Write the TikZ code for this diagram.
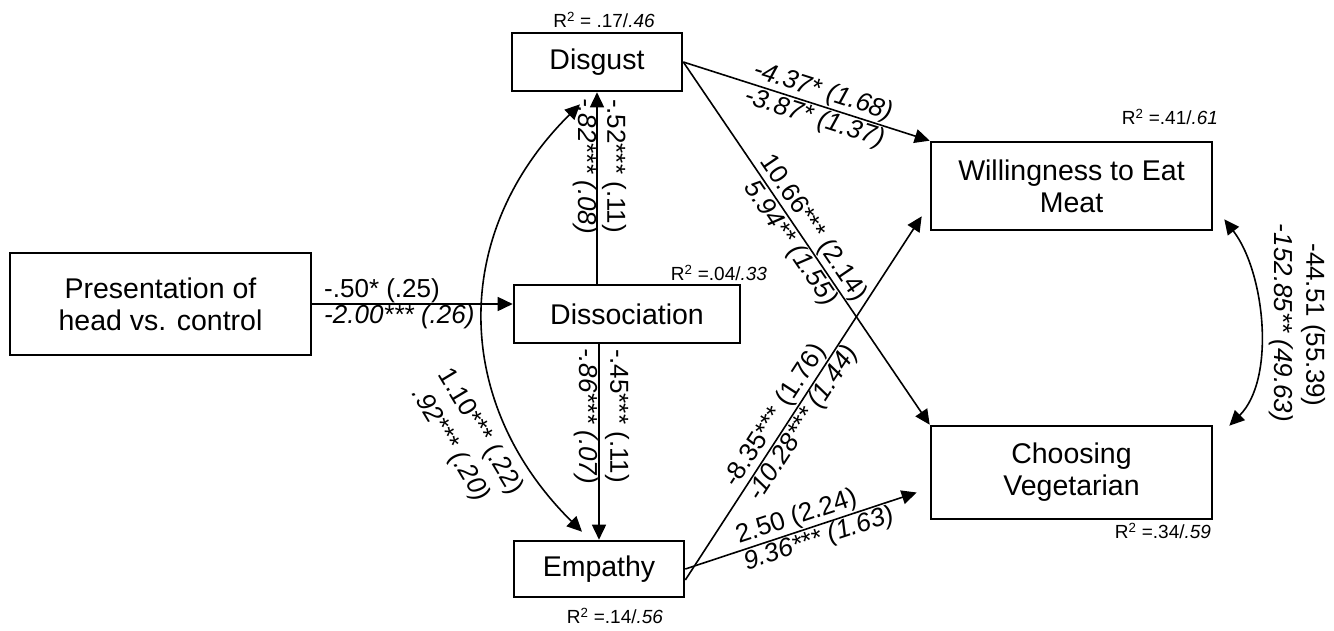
\documentclass[tikz,border=0pt]{standalone}
\usepackage{fontspec}
\setmainfont{Liberation Sans}
\usetikzlibrary{arrows.meta,calc}
\begin{document}
\begin{tikzpicture}[x=1pt,y=-1pt,
  box/.style={draw, line width=2.6pt, align=center, font=\fontsize{28.5}{32}\selectfont, inner sep=0pt},
  conn/.style={line width=1.6pt, -{Triangle[length=15pt,width=14pt]}},
  dconn/.style={line width=1.6pt, {Triangle[length=15pt,width=14pt]}-{Triangle[length=15pt,width=14pt]}},
  lab/.style={font=\fontsize{26}{28}\selectfont, inner sep=1pt},
  labi/.style={font=\fontsize{26}{28}\selectfont\itshape, inner sep=1pt},
  rsq/.style={font=\fontsize{19}{21}\selectfont, inner sep=0pt}]
\useasboundingbox (0,0) rectangle (1334,630);

% boxes
\node[box, minimum width=301pt, minimum height=102pt] (pres) at (160.5,304) {Presentation of\\head vs. control};
\node[box, minimum width=170pt, minimum height=58pt] (disg) at (597,62) {Disgust};
\node[box, minimum width=226pt, minimum height=58pt] (diss) at (627,314) {Dissociation};
\node[box, minimum width=170pt, minimum height=56pt] (emp) at (599,569) {Empathy};
\node[box, minimum width=281pt, minimum height=88pt] (will) at (1071.5,186) {Willingness to Eat\\Meat};
\node[box, minimum width=281pt, minimum height=93pt] (cho) at (1071.5,472.5) {Choosing\\Vegetarian};

% R squared
\node[rsq] (r1) at (604,20) {R\textsuperscript{2} = .17/\textit{.46}};
\node[rsq] (r2) at (719,273) {R\textsuperscript{2} =.04/\textit{.33}};
\node[rsq] (r3) at (1170,117) {R\textsuperscript{2} =.41/\textit{.61}};
\node[rsq] (r4) at (1163,531) {R\textsuperscript{2} =.34/\textit{.59}};
\node[rsq] (r5) at (615,616) {R\textsuperscript{2} =.14/\textit{.56}};

% connectors
\draw[conn] (pres.east) -- (pres.east -| diss.west);
\node[lab, anchor=west] (l1) at (323,291) {-.50* (.25)};
\node[labi, anchor=west] (l2) at (323,317) {-2.00*** (.26)};

\draw[conn] (diss.north -| disg.south) -- (disg.south);
\node[lab, rotate=-90] (l3) at (614,166) {-.52*** (.11)};
\node[labi, rotate=-90] (l4) at (585,166) {-.82*** (.08)};

\draw[conn] (diss.south -| emp.north) -- (emp.north);
\node[lab, rotate=-90] (l5) at (617,416) {-.45*** (.11)};
\node[labi, rotate=-90] (l6) at (586,416) {-.86*** (.07)};

\draw[conn] (disg.east) -- (will.north west)
  node[labi, sloped, above, pos=.55] (l7) {-4.37* (1.68)}
  node[labi, sloped, below, pos=.55] (l8) {-3.87* (1.37)};

\draw[conn] (disg.east) -- (cho.north west)
  node[lab, sloped, above, pos=.48] (l9) {10.66*** (2.14)}
  node[labi, sloped, below, pos=.48] (l10) {5.94** (1.55)};

\draw[conn] ($(emp.east)+(0,11)$) -- ($(will.south west)+(-8,-15)$)
  node[lab, sloped, above, pos=.43] (l11) {-8.35*** (1.76)}
  node[labi, sloped, below, pos=.45] (l12) {-10.28*** (1.44)};

\draw[conn] (emp.east) -- ($(cho.west)+(-13,20)$)
  node[lab, sloped, above, pos=.5] (l13) {2.50 (2.24)}
  node[labi, sloped, below, pos=.56] (l14) {9.36*** (1.63)};

% covariances
\draw[dconn] ($(disg.south)+(-17,12)$) .. controls (450,233) and (452,403) .. ($(emp.north)+(-17,-8)$);
\node[lab, rotate=-59] (l15) at (480,432) {1.10*** (.22)};
\node[labi, rotate=-59] (l16) at (450,445) {.92*** (.20)};

\draw[dconn] ($(will.south east)+(11,-12)$) .. controls (1265,272) and (1276,379) .. ($(cho.north east)+(16,1)$);
\node[lab, rotate=-90] (l17) at (1313,325) {-44.51 (55.39)};
\node[labi, rotate=-90] (l18) at (1281,323) {-152.85** (49.63)};
\end{tikzpicture}
\end{document}
